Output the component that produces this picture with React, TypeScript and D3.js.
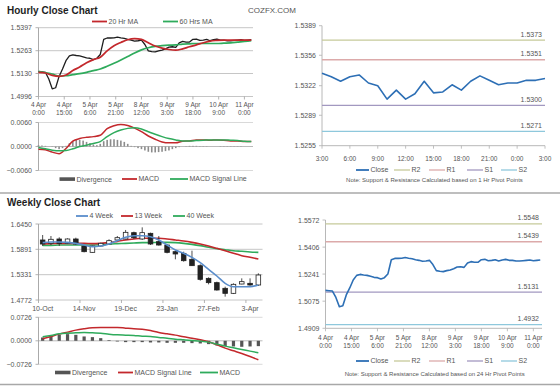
import React, { useEffect, useRef } from 'react';
import * as d3 from 'd3';

const W = 560;
const H = 386;
const FONT = "'Liberation Sans', Arial, sans-serif";

// ---- Hourly close chart: 4 Apr 0:00 -> 11 Apr ~4:00, one value every 2 hours
const hourlyStep = 2;
const hourlyClose = [
  1.5141, 1.5139, 1.5137, 1.5098, 1.5041, 1.5047, 1.5113, 1.5156, 1.5205, 1.5233,
  1.5239, 1.5235, 1.5233, 1.5227, 1.5221, 1.5219, 1.5211, 1.5219, 1.5241, 1.5329,
  1.5337, 1.5337, 1.5338, 1.5342, 1.5338, 1.5335, 1.5329, 1.5325, 1.5319, 1.5321,
  1.5325, 1.5299, 1.5262, 1.5258, 1.5256, 1.5262, 1.5266, 1.5274, 1.5284, 1.5286,
  1.5282, 1.5309, 1.5317, 1.5313, 1.5313, 1.5329, 1.5331, 1.5323, 1.5325, 1.5329,
  1.5321, 1.5327, 1.5331, 1.5325, 1.5325, 1.5321, 1.5321, 1.5323, 1.5325, 1.5327,
  1.5323, 1.5325, 1.5327,
];
// moving averages and MACD, one value every 4 hours
const maStep = 4;
const ma20Hr = [
  1.5137, 1.5133, 1.5119, 1.5113, 1.5121, 1.5147, 1.5168, 1.5192, 1.5211, 1.5225,
  1.5262, 1.5292, 1.5311, 1.5327, 1.5333, 1.5329, 1.5309, 1.529, 1.5278, 1.527,
  1.5266, 1.5274, 1.5286, 1.5297, 1.5309, 1.5319, 1.5323, 1.5325, 1.5325, 1.5325,
  1.5325, 1.5325,
];
const ma60Hr = [
  1.5143, 1.5135, 1.5127, 1.5115, 1.5117, 1.5123, 1.5129, 1.5137, 1.5147, 1.5156,
  1.5172, 1.519, 1.5209, 1.5229, 1.525, 1.5268, 1.528, 1.5288, 1.5292, 1.5295,
  1.5297, 1.5301, 1.5303, 1.5305, 1.5305, 1.5305, 1.5305, 1.5307, 1.5309, 1.5313,
  1.5317, 1.5321,
];
const hourlyMacd = [
  -0.00066, -0.00082, -0.0014, -0.00181, -0.00049, 0.00132, 0.00198, 0.0023, 0.00247, 0.0028,
  0.00444, 0.00519, 0.00551, 0.00527, 0.00461, 0.0037, 0.00263, 0.00181, 0.00115, 0.00091,
  0.00091, 0.00132, 0.0014, 0.00165, 0.00165, 0.00156, 0.00165, 0.00156, 0.0014, 0.0014,
  0.00123, 0.00123,
];
const hourlySignal = [
  -0.00025, -0.00058, -0.00091, -0.00107, -0.00099, -0.00058, 0, 0.00033, 0.00074, 0.00123,
  0.00247, 0.00346, 0.00412, 0.00453, 0.00469, 0.00436, 0.0037, 0.00305, 0.00247, 0.00198,
  0.00165, 0.0014, 0.0014, 0.00148, 0.00156, 0.00165, 0.00165, 0.00165, 0.00156, 0.00148,
  0.00132, 0.00123,
];
// divergence, every 2 hours
const hourlyDivergence = [
  0.00033, 0.00025, 0.00016, 0, -0.00008, -0.00041, -0.00066, -0.00041, 0.00016, 0.00082,
  0.00132, 0.00165, 0.00165, 0.00148, 0.00115, 0.00082, 0.00049, 0.00033, 0.00066, 0.00132,
  0.00165, 0.00181, 0.00181, 0.00165, 0.00148, 0.00115, 0.00066, 0.00016, -0.00016, -0.00041,
  -0.00066, -0.00099, -0.00132, -0.00148, -0.00148, -0.0014, -0.00132, -0.00115, -0.00099, -0.00066,
  -0.00041, -0.00016, 0, 0.00008, 0.00016, 0.00016, 0.00016, 0.00008, 0.00008, 0.00008,
  0, 0, 0, -0.00008, -0.00008, -0.00008, -0.00008, -0.00008, -0.00008, -0.00008,
  0, 0, 0,
];
const hourlyYTicks = [1.5397, 1.5263, 1.513, 1.4996];
const hourlyMacdTicks = [0.006, 0, -0.006];
const hourlyXLabels = [
  ['4 Apr', '0:00'], ['4 Apr', '15:00'], ['5 Apr', '6:00'], ['5 Apr', '21:00'], ['8 Apr', '12:00'],
  ['9 Apr', '3:00'], ['9 Apr', '18:00'], ['10 Apr', '9:00'], ['11 Apr', '0:00'],
];
const hourlyXLabelHours = [0, 15, 30, 45, 60, 75, 90, 105, 120];

// ---- 1 Hr pivot chart (3:00 -> 3:00, hourly)
const pivot1hClose = [
  1.5336, 1.5332, 1.5327, 1.5332, 1.5334, 1.5325, 1.5322, 1.5307, 1.5317, 1.5307,
  1.5313, 1.5327, 1.5314, 1.5315, 1.5323, 1.5317, 1.5327, 1.5333, 1.5328, 1.5323,
  1.5325, 1.5325, 1.5328, 1.5328, 1.533,
];
const pivot1hLabels = ['3:00', '6:00', '9:00', '12:00', '15:00', '18:00', '21:00', '0:00', '3:00'];
const pivot1hYTicks = [1.5389, 1.5356, 1.5322, 1.5289, 1.5255];
const pivot1hLevels = [1.5373, 1.5351, 1.53, 1.5271]; // R2, R1, S1, S2

// ---- 24 Hr pivot chart (uses hourlyClose)
const pivot24hYTicks = [1.5572, 1.5406, 1.5241, 1.5075, 1.4909];
const pivot24hLevels = [1.5548, 1.5439, 1.5131, 1.4932]; // R2, R1, S1, S2

const pivotNames = ['R2', 'R1', 'S1', 'S2'];
const pivotColors = ['#c6ca9a', '#dcaaaa', '#a298c0', '#8ec8dc'];

// ---- Weekly close chart
const weekLabels = [
  '10-Oct', '17-Oct', '24-Oct', '31-Oct', '7-Nov', '14-Nov', '21-Nov', '28-Nov', '5-Dec',
  '12-Dec', '19-Dec', '26-Dec', '2-Jan', '9-Jan', '16-Jan', '23-Jan', '30-Jan', '6-Feb',
  '13-Feb', '20-Feb', '27-Feb', '6-Mar', '13-Mar', '20-Mar', '27-Mar', '3-Apr', '10-Apr',
];
const shownWeekLabels = ['10-Oct', '14-Nov', '19-Dec', '23-Jan', '27-Feb', '3-Apr'];
const weeklyOpen = [
  1.6097, 1.6023, 1.6119, 1.6023, 1.6119, 1.5964, 1.5824, 1.5964, 1.6008, 1.6097,
  1.6119, 1.6259, 1.6119, 1.6244, 1.606, 1.5986, 1.5839, 1.5802, 1.567, 1.553,
  1.525, 1.5155, 1.503, 1.4919, 1.5125, 1.514, 1.5103,
];
const weeklyHigh = [
  1.6207, 1.6185, 1.6156, 1.6134, 1.6148, 1.5986, 1.5972, 1.6038, 1.6112, 1.6185,
  1.6318, 1.6281, 1.6376, 1.6259, 1.6185, 1.6008, 1.5861, 1.5839, 1.5861, 1.556,
  1.5272, 1.5177, 1.5066, 1.514, 1.525, 1.525, 1.5361,
];
const weeklyLow = [
  1.5964, 1.5986, 1.5964, 1.6008, 1.5986, 1.5824, 1.5817, 1.595, 1.5994, 1.6082,
  1.6112, 1.6119, 1.6097, 1.5986, 1.5972, 1.5802, 1.567, 1.5618, 1.5523, 1.5199,
  1.5118, 1.4978, 1.4846, 1.4904, 1.5118, 1.5088, 1.5081,
];
const weeklyClose = [
  1.6008, 1.6112, 1.6023, 1.6119, 1.6008, 1.5839, 1.5964, 1.6023, 1.6082, 1.6148,
  1.6266, 1.6148, 1.6259, 1.6008, 1.5986, 1.5824, 1.5788, 1.564, 1.553, 1.5228,
  1.5155, 1.4993, 1.4919, 1.5118, 1.5177, 1.5103, 1.5324,
];
const ma4Week = [
  1.6038, 1.6053, 1.6053, 1.6045, 1.6023, 1.5986, 1.595, 1.5964, 1.6008, 1.6082,
  1.6156, 1.6192, 1.6192, 1.617, 1.6097, 1.5986, 1.5876, 1.5802, 1.5714, 1.5596,
  1.5449, 1.5302, 1.514, 1.5066, 1.5066, 1.5066, 1.5103,
];
const ma13Week = [
  1.6008, 1.6016, 1.6023, 1.6023, 1.6023, 1.6023, 1.6016, 1.6023, 1.6038, 1.6067,
  1.6097, 1.6119, 1.6134, 1.6134, 1.6134, 1.6119, 1.6097, 1.6075, 1.6045, 1.6008,
  1.5964, 1.5913, 1.5861, 1.5802, 1.5751, 1.5714, 1.5677,
];
const ma40Week = [
  1.5979, 1.5979, 1.5986, 1.5986, 1.5986, 1.5986, 1.5986, 1.5994, 1.6008, 1.6016,
  1.6023, 1.6031, 1.6038, 1.6038, 1.6045, 1.6045, 1.6038, 1.6023, 1.6001, 1.5972,
  1.5935, 1.5905, 1.5883, 1.5861, 1.5847, 1.5832, 1.5824,
];
const weeklySignal = [
  0.0062, 0.0134, 0.0206, 0.0268, 0.033, 0.0371, 0.0402, 0.0412, 0.0412, 0.0412,
  0.0391, 0.0371, 0.036, 0.0319, 0.0257, 0.0216, 0.0175, 0.0124, 0.0082, 0.0031,
  -0.0031, -0.0124, -0.0227, -0.0309, -0.0391, -0.0484, -0.0587,
];
const weeklyMacd = [
  0.0124, 0.0165, 0.0216, 0.0237, 0.0247, 0.0257, 0.0247, 0.0237, 0.0206, 0.0185,
  0.0175, 0.0165, 0.0144, 0.0134, 0.0103, 0.0082, 0.0051, 0.0031, 0.001, -0.001,
  -0.0041, -0.0103, -0.0165, -0.0216, -0.0268, -0.0319, -0.0371,
];
const weeklyDivergence = [
  0.0103, 0.0165, 0.0185, 0.0206, 0.0185, 0.0134, 0.0113, 0.0082, 0.0021, -0.0021,
  -0.0041, -0.0041, -0.0041, -0.0051, -0.0051, -0.0062, -0.0062, -0.0062, -0.0072, -0.0082,
  -0.0103, -0.0144, -0.0165, -0.0175, -0.0185, -0.0175, -0.0165,
];
const weeklyYTicks = [1.645, 1.5891, 1.5331, 1.4772];
const weeklyMacdTicks = [0.0726, 0, -0.0726];

const RED = '#c3282c';
const GREEN = '#2fab5c';
const BLUE = '#2d6fb5';
const GRID = '#b8b8b8';
const AXIS = '#a0a0a0';
const LABEL = '#555';

const App: React.FC = () => {
  const svgRef = useRef<SVGSVGElement>(null);

  useEffect(() => {
    if (!svgRef.current) return;
    const svg = d3.select(svgRef.current);
    svg.selectAll('*').remove();
    const root = svg.append('g').attr('font-family', FONT);
    root.append('rect').attr('width', W).attr('height', H).attr('fill', '#fff');

    const text = (x: number, y: number, s: string, size = 7, anchor = 'start', fill = LABEL, weight = 'normal') =>
      root.append('text').attr('x', x).attr('y', y).attr('font-size', size)
        .attr('text-anchor', anchor).attr('fill', fill).attr('font-weight', weight).text(s);
    const line = (x1: number, y1: number, x2: number, y2: number, stroke: string, w = 1) =>
      root.append('line').attr('x1', x1).attr('y1', y1).attr('x2', x2).attr('y2', y2)
        .attr('stroke', stroke).attr('stroke-width', w);
    const path = (d: string | null, stroke: string, w: number) =>
      root.append('path').attr('d', d).attr('fill', 'none').attr('stroke', stroke)
        .attr('stroke-width', w).attr('stroke-linejoin', 'round');
    const legendLine = (x1: number, x2: number, y: number, color: string, label: string, w = 1.8) => {
      line(x1, y, x2, y, color, w);
      text(x2 + 1.5, y + 2.4, label, 7);
    };

    // separators
    line(0, 193, W, 193, '#a8a8a8', 1.5);
    line(0, 384.5, W, 384.5, '#a8a8a8', 1.5);

    // titles
    text(7, 14, 'Hourly Close Chart', 10, 'start', '#1e1e1e', 'bold');
    text(248, 13, 'COZFX.COM', 8, 'start', '#555');
    text(7, 206, 'Weekly Close Chart', 10, 'start', '#1e1e1e', 'bold');

    // ---------- Hourly close chart ----------
    const xH = d3.scaleLinear().domain([0, 125]).range([38.5, 253]);
    const yH = d3.scaleLinear().domain(d3.extent(hourlyYTicks) as [number, number]).range([96.5, 27.7]);
    hourlyYTicks.forEach(v => {
      line(38.5, yH(v), 253, yH(v), GRID, 0.8);
      line(35.5, yH(v), 38.5, yH(v), AXIS, 0.8);
      text(32, yH(v) + 2.5, v.toFixed(4), 7, 'end');
    });
    line(38.5, yH.range()[1], 38.5, yH.range()[0], AXIS, 0.9);
    hourlyXLabelHours.forEach((h, i) => {
      line(xH(h), 96.5, xH(h), 99.5, AXIS, 0.8);
      text(xH(h), 107, hourlyXLabels[i][0], 6.5, 'middle');
      text(xH(h), 114.5, hourlyXLabels[i][1], 6.5, 'middle');
    });
    path(d3.line<number>().x((_, i) => xH(i * hourlyStep)).y(d => yH(d))(hourlyClose), '#1e1e1e', 1.3);
    path(d3.line<number>().x((_, i) => xH(i * maStep)).y(d => yH(d)).curve(d3.curveMonotoneX)(ma60Hr), GREEN, 1.7);
    path(d3.line<number>().x((_, i) => xH(i * maStep)).y(d => yH(d)).curve(d3.curveMonotoneX)(ma20Hr), RED, 1.7);
    legendLine(92, 107, 21.5, RED, '20 Hr MA');
    legendLine(163, 178, 21.5, GREEN, '60 Hrs MA');

    // ---------- Hourly MACD ----------
    const yHM = d3.scaleLinear().domain([-0.006, 0.006]).range([170.5, 122.5]);
    hourlyMacdTicks.forEach(v => {
      line(38.5, yHM(v), 253, yHM(v), v === 0 ? '#a8a8a8' : '#cfcfcf', 0.8);
      line(35.5, yHM(v), 38.5, yHM(v), AXIS, 0.8);
      text(32, yHM(v) + 2.5, d3.format('.4f')(v), 7, 'end');
    });
    line(38.5, 122.5, 38.5, 170.5, AXIS, 0.9);
    root.append('g').selectAll('rect').data(hourlyDivergence).join('rect')
      .attr('x', (_, i) => xH(i * hourlyStep) - 0.8)
      .attr('width', 1.6)
      .attr('y', d => Math.min(yHM(d), yHM(0)))
      .attr('height', d => Math.abs(yHM(d) - yHM(0)))
      .attr('fill', '#8c8c8c');
    path(d3.line<number>().x((_, i) => xH(i * maStep)).y(d => yHM(d)).curve(d3.curveMonotoneX)(hourlyMacd), RED, 1.5);
    path(d3.line<number>().x((_, i) => xH(i * maStep)).y(d => yHM(d)).curve(d3.curveMonotoneX)(hourlySignal), GREEN, 1.5);
    root.append('rect').attr('x', 59.5).attr('y', 177.3).attr('width', 15.5).attr('height', 3.6).attr('fill', '#555');
    text(76.5, 181.5, 'Divergence', 7);
    legendLine(122, 137, 179, RED, 'MACD');
    legendLine(170, 188, 179, GREEN, 'MACD Signal Line');

    // ---------- Pivot charts ----------
    const pivotChart = (
      x0: number, x1: number, y0: number, y1: number,
      xScale: d3.ScaleLinear<number, number>, closeStep: number, close: number[],
      yTicks: number[], levels: number[],
      xLabels: string[][], xLabelPos: number[], labelY: number, legendY: number, noteY: number, note: string,
    ) => {
      const y = d3.scaleLinear().domain(d3.extent(yTicks) as [number, number]).range([y1, y0]);
      line(x0, y0, x0, y1, '#b0b0b0', 0.9);
      line(x0, y1, x1, y1, '#b0b0b0', 0.9);
      yTicks.forEach(v => {
        line(x0 - 3, y(v), x0, y(v), '#b0b0b0', 0.8);
        text(x0 - 6, y(v) + 2.5, v.toFixed(4), 7, 'end');
      });
      xLabelPos.forEach((h, i) => {
        const xx = xScale(h);
        line(xx, y1, xx, y1 + 3, '#b0b0b0', 0.8);
        xLabels[i].forEach((s, j) => text(xx, labelY + j * 8, s, 6.5, 'middle'));
      });
      levels.forEach((v, i) => {
        line(x0, y(v), x1, y(v), pivotColors[i], 1.3);
        text(x1 - 3, y(v) - 3.5, v.toFixed(4), 7, 'end');
      });
      path(d3.line<number>().x((_, i) => xScale(i * closeStep)).y(d => y(d))(close), BLUE, 1.6);
      const lx = [356, 394, 429, 467, 501];
      legendLine(lx[0], lx[0] + 13, legendY, BLUE, 'Close', 1.8);
      pivotNames.forEach((n, i) => legendLine(lx[i + 1], lx[i + 1] + 16, legendY, pivotColors[i], n, 1.3));
      text((x0 + x1) / 2 + 1, noteY, note, 6, 'middle', '#555');
    };

    const xP1 = d3.scaleLinear().domain([0, 24]).range([322, 545]);
    pivotChart(322, 545, 25.7, 145.7, xP1, 1, pivot1hClose, pivot1hYTicks, pivot1hLevels,
      pivot1hLabels.map(s => [s]), pivot1hLabels.map((_, i) => i * 3), 161, 170, 182,
      'Note: Support & Resistance Calculated based on 1 Hr Pivot Points');

    const xP24 = d3.scaleLinear().domain([0, 125]).range([325.5, 542]);
    pivotChart(325.5, 542, 220, 328.3, xP24, hourlyStep, hourlyClose, pivot24hYTicks, pivot24hLevels,
      hourlyXLabels, hourlyXLabelHours, 340, 361, 376,
      'Note: Support & Resistance Calculated based on 24 Hr Pivot Points');

    // ---------- Weekly close chart ----------
    const xW = d3.scaleBand<string>().domain(weekLabels).range([38.5, 262.5]);
    const cx = (i: number) => (xW(weekLabels[i]) as number) + xW.bandwidth() / 2;
    const yW = d3.scaleLinear().domain(d3.extent(weeklyYTicks) as [number, number]).range([300, 224]);
    weeklyYTicks.forEach(v => {
      line(38.5, yW(v), 262.5, yW(v), GRID, 0.8);
      line(35.5, yW(v), 38.5, yW(v), AXIS, 0.8);
      text(32, yW(v) + 2.5, v.toFixed(4), 7, 'end');
    });
    line(38.5, 224, 38.5, 300, AXIS, 0.9);
    shownWeekLabels.forEach(l => {
      const bx = xW(l) as number;
      line(bx, 300, bx, 303, AXIS, 0.8);
      text(bx + xW.bandwidth() / 2, 310.5, l, 7, 'middle');
    });
    const wLine = d3.line<number>().x((_, i) => cx(i)).y(d => yW(d)).curve(d3.curveMonotoneX);
    path(wLine(ma40Week), GREEN, 1.6);
    path(wLine(ma13Week), RED, 1.6);
    const candles = root.append('g');
    weeklyOpen.forEach((o, i) => {
      const c = weeklyClose[i];
      candles.append('line').attr('x1', cx(i)).attr('x2', cx(i))
        .attr('y1', yW(weeklyHigh[i])).attr('y2', yW(weeklyLow[i]))
        .attr('stroke', '#222').attr('stroke-width', 0.8);
      candles.append('rect').attr('x', cx(i) - 2.3).attr('width', 4.6)
        .attr('y', yW(Math.max(o, c))).attr('height', Math.max(1, Math.abs(yW(o) - yW(c))))
        .attr('fill', c >= o ? '#fff' : '#222').attr('stroke', '#222').attr('stroke-width', 0.8);
    });
    path(wLine(ma4Week), '#5a8dcb', 1.6);
    legendLine(76, 88, 216, '#5a8dcb', '4 Week');
    legendLine(121, 133, 216, RED, '13 Week');
    legendLine(173, 185, 216, GREEN, '40 Week');

    // ---------- Weekly MACD ----------
    const yWM = d3.scaleLinear().domain([-0.0726, 0.0726]).range([364.3, 317.3]);
    weeklyMacdTicks.forEach(v => {
      line(38.5, yWM(v), 262.5, yWM(v), v === 0 ? '#a8a8a8' : '#cfcfcf', 0.8);
      line(35.5, yWM(v), 38.5, yWM(v), AXIS, 0.8);
      text(32, yWM(v) + 2.5, d3.format('.4f')(v), 7, 'end');
    });
    line(38.5, 317.3, 38.5, 364.3, AXIS, 0.9);
    root.append('g').selectAll('rect').data(weeklyDivergence).join('rect')
      .attr('x', (_, i) => cx(i) - 1.6)
      .attr('width', 3.2)
      .attr('y', d => Math.min(yWM(d), yWM(0)))
      .attr('height', d => Math.abs(yWM(d) - yWM(0)))
      .attr('fill', '#555');
    const wmLine = d3.line<number>().x((_, i) => cx(i)).y(d => yWM(d)).curve(d3.curveMonotoneX);
    path(wmLine(weeklySignal), RED, 1.5);
    path(wmLine(weeklyMacd), GREEN, 1.5);
    root.append('rect').attr('x', 55).attr('y', 370.7).attr('width', 15.5).attr('height', 3.6).attr('fill', '#555');
    text(72, 375, 'Divergence', 7);
    legendLine(118, 133, 372.5, RED, 'MACD Signal Line');
    legendLine(200, 218, 372.5, GREEN, 'MACD');
  }, []);

  return (
    <svg
      ref={svgRef}
      width={W}
      height={H}
      style={{ position: 'absolute', left: 0, top: 0, display: 'block' }}
    />
  );
};

export default App;
